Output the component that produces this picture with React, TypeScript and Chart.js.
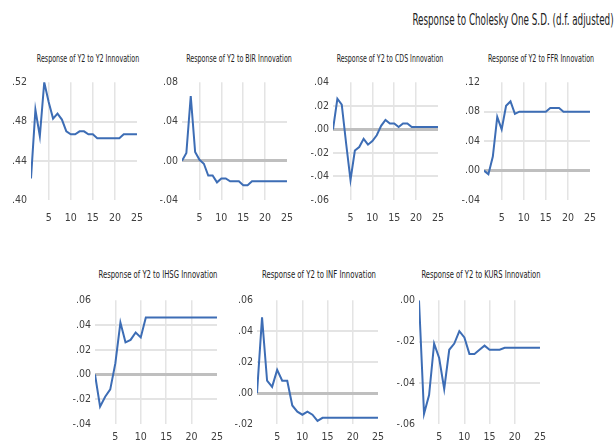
import React, { useEffect, useLayoutEffect, useRef, useState } from "react";
import { Chart, registerables } from "chart.js";

Chart.register(...registerables);

const PERIODS = [1, 2, 3, 4, 5, 6, 7, 8, 9, 10, 11, 12, 13, 14, 15, 16, 17, 18, 19, 20, 21, 22, 23, 24, 25];
const X_TICKS = [5, 10, 15, 20, 25];

const Y2_Y2 = [0.422, 0.492, 0.465, 0.52, 0.5, 0.483, 0.488, 0.482, 0.47, 0.467, 0.467, 0.47, 0.47, 0.467, 0.467, 0.463, 0.463, 0.463, 0.463, 0.463, 0.463, 0.467, 0.467, 0.467, 0.467];
const Y2_BIR = [0, 0.008, 0.066, 0.009, 0.001, -0.003, -0.015, -0.015, -0.022, -0.018, -0.018, -0.021, -0.021, -0.021, -0.025, -0.025, -0.021, -0.021, -0.021, -0.021, -0.021, -0.021, -0.021, -0.021, -0.021];
const Y2_CDS = [0, 0.026, 0.021, -0.012, -0.043, -0.018, -0.015, -0.008, -0.013, -0.01, -0.005, 0.003, 0.008, 0.005, 0.005, 0.002, 0.005, 0.005, 0.002, 0.002, 0.002, 0.002, 0.002, 0.002, 0.002];
const Y2_FFR = [0, -0.005, 0.019, 0.073, 0.056, 0.088, 0.094, 0.077, 0.08, 0.08, 0.08, 0.08, 0.08, 0.08, 0.08, 0.085, 0.085, 0.085, 0.08, 0.08, 0.08, 0.08, 0.08, 0.08, 0.08];
const Y2_IHSG = [0, -0.026, -0.018, -0.012, 0.009, 0.042, 0.026, 0.028, 0.034, 0.03, 0.046, 0.046, 0.046, 0.046, 0.046, 0.046, 0.046, 0.046, 0.046, 0.046, 0.046, 0.046, 0.046, 0.046, 0.046];
const Y2_INF = [0, 0.049, 0.008, 0.004, 0.015, 0.008, 0.008, -0.008, -0.012, -0.014, -0.012, -0.014, -0.018, -0.016, -0.016, -0.016, -0.016, -0.016, -0.016, -0.016, -0.016, -0.016, -0.016, -0.016, -0.016];
const Y2_KURS = [0, -0.055, -0.046, -0.021, -0.028, -0.043, -0.024, -0.021, -0.015, -0.018, -0.026, -0.026, -0.024, -0.022, -0.024, -0.024, -0.024, -0.023, -0.023, -0.023, -0.023, -0.023, -0.023, -0.023, -0.023];

const MAIN_TITLE = "Response to Cholesky One S.D. (d.f. adjusted)";
const TITLES = [
  "Response of Y2 to Y2 Innovation",
  "Response of Y2 to BIR Innovation",
  "Response of Y2 to CDS Innovation",
  "Response of Y2 to FFR Innovation",
  "Response of Y2 to IHSG Innovation",
  "Response of Y2 to INF Innovation",
  "Response of Y2 to KURS Innovation",
];
const SERIES = [Y2_Y2, Y2_BIR, Y2_CDS, Y2_FFR, Y2_IHSG, Y2_INF, Y2_KURS];
const Y_MIN = [0.4, -0.04, -0.06, -0.04, -0.04, -0.02, -0.06];
const Y_MAX = [0.52, 0.08, 0.04, 0.12, 0.06, 0.06, 0.0];
const Y_STEP = [0.04, 0.04, 0.02, 0.04, 0.02, 0.02, 0.02];

// plot-area boxes in page pixels [left, right, top, bottom]
const BOXES = [
  [31, 147, 82, 200],
  [182, 297, 82, 200],
  [333, 448, 82, 200],
  [484, 600, 82, 200],
  [95, 222, 300, 424],
  [257, 383, 300, 424],
  [419, 545, 300, 424],
];
const TITLE_W = [102, 106, 107, 106, 119, 114, 119];

const FONT = "'Liberation Sans Narrow', 'DejaVu Sans Condensed', 'Liberation Sans', sans-serif";
const LINE = "#3D6DB5";

const YW = 34;
const PADT = 10;
const PADR = 8;

function fmt(v: number) {
  if (Math.abs(v) < 1e-9) return ".00";
  const s = Math.abs(v).toFixed(2).replace(/^0/, "");
  return v < 0 ? "-" + s : s;
}

function FitText({ text, cx, cy, width, size, color }: any) {
  const ref = useRef<HTMLDivElement>(null);
  const [k, setK] = useState(1);
  useLayoutEffect(() => {
    if (ref.current) {
      const w = ref.current.offsetWidth;
      if (w > 0) setK(width / w);
    }
  }, [text, width]);
  return (
    <div
      ref={ref}
      style={{
        position: "absolute",
        left: cx,
        top: cy,
        transform: `translate(-50%, -50%) scaleX(${k})`,
        whiteSpace: "nowrap",
        fontFamily: FONT,
        fontSize: size,
        color,
        lineHeight: 1,
      }}
    >
      {text}
    </div>
  );
}

function Panel({ idx }: { idx: number }) {
  const ref = useRef<HTMLCanvasElement>(null);
  const [L, R, T, B] = BOXES[idx];
  const bottomRow = idx >= 4;
  const XH = bottomRow ? 20 : 26;
  const left = L - YW;
  const top = T - PADT;
  const width = R - left + PADR;
  const height = B - top + XH;

  useEffect(() => {
    if (!ref.current) return;
    const data = SERIES[idx].map((v, i) => ({ x: PERIODS[i], y: v }));
    const chart = new Chart(ref.current, {
      type: "line",
      data: {
        datasets: [
          {
            data,
            borderColor: LINE,
            borderWidth: 2,
            pointRadius: 0,
            tension: 0,
            fill: false,
          },
        ],
      },
      options: {
        animation: false,
        responsive: false,
        maintainAspectRatio: false,
        layout: { padding: { left: 0, right: PADR, top: PADT, bottom: 0 } },
        plugins: { legend: { display: false }, title: { display: false }, tooltip: { enabled: false } },
        scales: {
          x: {
            type: "linear",
            min: 1,
            max: 25,
            afterBuildTicks: (axis: any) => {
              axis.ticks = X_TICKS.map((v) => ({ value: v }));
            },
            afterFit: (scale: any) => {
              scale.height = XH;
            },
            border: { display: false },
            grid: {
              drawTicks: false,
              color: (ctx: any) => (ctx.tick && ctx.tick.value === 25 ? "rgba(0,0,0,0)" : "#E4E4E4"),
              lineWidth: 1.5,
            },
            ticks: {
              padding: bottomRow ? 7 : 12,
              color: "#404040",
              font: { family: FONT, size: 10.5 },
              maxRotation: 0,
              autoSkip: false,
            },
          },
          y: {
            type: "linear",
            min: Y_MIN[idx],
            max: Y_MAX[idx],
            afterFit: (scale: any) => {
              scale.width = YW;
            },
            border: { display: false },
            grid: {
              drawTicks: false,
              color: (ctx: any) => {
                const n = ctx.scale.ticks.length;
                if (ctx.index === 0 || ctx.index === n - 1) return "rgba(0,0,0,0)";
                if (ctx.tick && Math.abs(ctx.tick.value) < 1e-9) return "#BFBFBF";
                return "#E4E4E4";
              },
              lineWidth: (ctx: any) => (ctx.tick && Math.abs(ctx.tick.value) < 1e-9 ? 3 : 2),
            },
            ticks: {
              stepSize: Y_STEP[idx],
              padding: 4,
              color: "#404040",
              font: { family: FONT, size: 10.5 },
              callback: (v: any) => fmt(Number(v)),
            },
          },
        },
      } as any,
    });
    return () => chart.destroy();
  }, [idx]);

  return (
    <canvas
      ref={ref}
      width={width}
      height={height}
      style={{ position: "absolute", left, top, width, height }}
    />
  );
}

export default function App() {
  const titleY = [58, 58, 58, 58, 274, 274, 274];
  return (
    <div
      style={{
        position: "fixed",
        left: 0,
        top: 0,
        width: 616,
        height: 444,
        background: "#ffffff",
        overflow: "hidden",
      }}
    >
      <FitText text={MAIN_TITLE} cx={512.5} cy={20} width={201} size={15} color="#222" />
      {TITLES.map((t, i) => (
        <FitText
          key={"t" + i}
          text={t}
          cx={(BOXES[i][0] + BOXES[i][1]) / 2 - 1}
          cy={titleY[i]}
          width={TITLE_W[i]}
          size={10.5}
          color="#222"
        />
      ))}
      {SERIES.map((_, i) => (
        <Panel key={"p" + i} idx={i} />
      ))}
    </div>
  );
}
